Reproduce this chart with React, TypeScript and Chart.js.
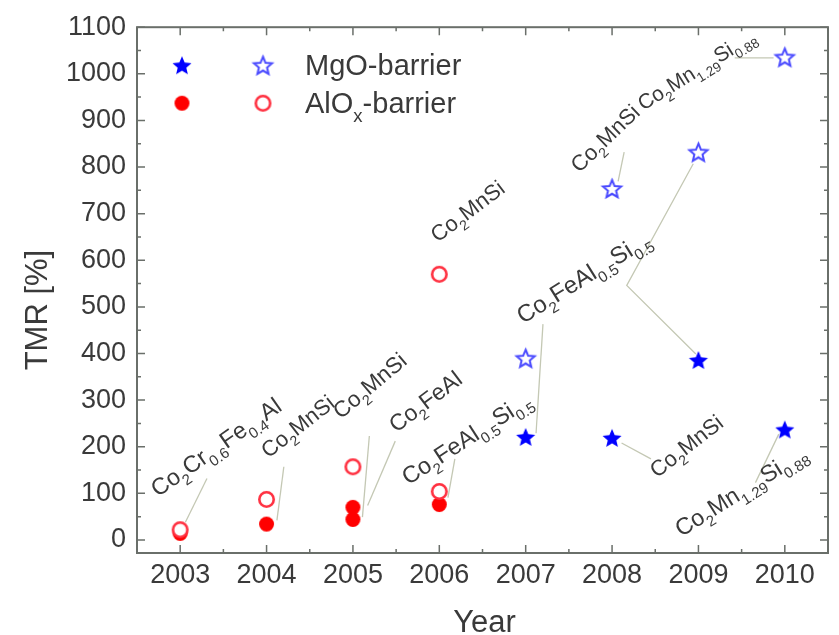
import React, { useEffect, useRef } from "react";
import { Chart, registerables } from "chart.js";

Chart.register(...registerables);

// ---- data ----
const mgoRtYears = [2007, 2008, 2009, 2010];
const mgoRtTmr = [221, 219, 386, 237];
const mgoLtYears = [2007, 2008, 2009, 2010];
const mgoLtTmr = [390, 754, 832, 1036];
const aloxRtYears = [2003, 2004, 2005, 2005, 2006];
const aloxRtTmr = [14, 34, 70, 44, 76];
const aloxLtYears = [2003, 2004, 2005, 2006, 2006];
const aloxLtTmr = [22, 87, 157, 104, 570];
const yearTicks = [2003, 2004, 2005, 2006, 2007, 2008, 2009, 2010];
const tmrTicks = [0, 100, 200, 300, 400, 500, 600, 700, 800, 900, 1000, 1100];
const legendLabels = ["MgO-barrier", "AlO_{x}-barrier"];

// material labels: text, anchor (year, TMR) at baseline start, angle
const labelTexts = [
  "Co_{2}Cr_{0.6}Fe_{0.4}Al",
  "Co_{2}MnSi",
  "Co_{2}MnSi",
  "Co_{2}FeAl",
  "Co_{2}FeAl_{0.5}Si_{0.5}",
  "Co_{2}MnSi",
  "Co_{2}FeAl_{0.5}Si_{0.5}",
  "Co_{2}MnSi",
  "Co_{2}Mn_{1.29}Si_{0.88}",
  "Co_{2}MnSi",
  "Co_{2}Mn_{1.29}Si_{0.88}",
];
const labelYears = [2002.74, 2004.02, 2004.86, 2005.5, 2005.64, 2005.98, 2006.97, 2007.62, 2008.36, 2008.52, 2008.8];
const labelTmrs = [91, 174, 258, 229, 117, 637, 463, 786, 920, 132, 6];
const labelAngles = [35, 38, 40, 37, 33, 37, 32, 44, 32, 38, 32];
const labelSizes = [23.5, 22, 22.5, 23, 23.5, 22, 24, 22, 21, 22, 23.5];

// leader lines in data coordinates
const leaderLines: number[][][] = [
  [[2003.06, 38], [2003.31, 132]],
  [[2004.12, 42], [2004.2, 157]],
  [[2005.11, 49], [2005.19, 223]],
  [[2005.17, 74], [2005.49, 212]],
  [[2006.1, 91], [2006.18, 174]],
  [[2007.12, 229], [2007.2, 463]],
  [[2008.94, 807], [2008.17, 546], [2008.97, 399]],
  [[2008.14, 832], [2008.07, 769]],
  [[2009.42, 1034], [2009.87, 1034]],
  [[2008.11, 208], [2008.45, 174]],
  [[2009.93, 227], [2009.66, 123]],
];

const FONT = '"Liberation Sans", Arial, Helvetica, sans-serif';
const TEXT = "#3a3a3a";
const FRAME = "#6a6f6a";

function makeStar(r: number, filled: boolean, color: string): HTMLCanvasElement {
  const size = Math.ceil(2 * r + 6);
  const c = document.createElement("canvas");
  c.width = size;
  c.height = size;
  const g = c.getContext("2d")!;
  const cx = size / 2;
  const cy = size / 2 + 1;
  g.beginPath();
  for (let i = 0; i < 10; i++) {
    const rr = i % 2 === 0 ? r : r * 0.45;
    const a = -Math.PI / 2 + (i * Math.PI) / 5;
    const px = cx + rr * Math.cos(a);
    const py = cy + rr * Math.sin(a);
    if (i === 0) g.moveTo(px, py);
    else g.lineTo(px, py);
  }
  g.closePath();
  if (filled) {
    g.fillStyle = color;
    g.fill();
  } else {
    g.fillStyle = "#ffffff";
    g.fill();
    g.lineWidth = 2;
    g.strokeStyle = color;
    g.stroke();
  }
  return c;
}

function makeCircle(r: number, filled: boolean, color: string): HTMLCanvasElement {
  const size = Math.ceil(2 * r + 6);
  const c = document.createElement("canvas");
  c.width = size;
  c.height = size;
  const g = c.getContext("2d")!;
  g.beginPath();
  g.arc(size / 2, size / 2, filled ? r : r - 1.3, 0, Math.PI * 2);
  if (filled) {
    g.fillStyle = color;
    g.fill();
  } else {
    g.fillStyle = "#ffffff";
    g.fill();
    g.lineWidth = 2.6;
    g.strokeStyle = color;
    g.stroke();
  }
  return c;
}

function parseRich(s: string) {
  const parts: { t: string; sub: boolean }[] = [];
  const re = /_\{([^}]*)\}|([^_]+)/g;
  let m: RegExpExecArray | null;
  while ((m = re.exec(s))) {
    if (m[1] !== undefined) parts.push({ t: m[1], sub: true });
    else parts.push({ t: m[2], sub: false });
  }
  return parts;
}

function drawRich(ctx: CanvasRenderingContext2D, s: string, x: number, y: number, angle: number, size: number) {
  ctx.save();
  ctx.translate(x, y);
  ctx.rotate((-angle * Math.PI) / 180);
  ctx.textBaseline = "alphabetic";
  ctx.textAlign = "left";
  let cx = 0;
  for (const p of parseRich(s)) {
    const fs = p.sub ? size * 0.64 : size;
    ctx.font = `${fs}px ${FONT}`;
    ctx.fillText(p.t, cx, p.sub ? size * 0.3 : 0);
    cx += ctx.measureText(p.t).width;
  }
  ctx.restore();
}

export default function App() {
  const ref = useRef<HTMLCanvasElement>(null);

  useEffect(() => {
    const canvas = ref.current;
    if (!canvas) return;
    const starFilled = makeStar(10, true, "#0000ff");
    const starOpen = makeStar(9.5, false, "#4a4aff");
    const circFilled = makeCircle(7.5, true, "#ff0000");
    const circOpen = makeCircle(8.5, false, "#ff3040");

    const toPts = (xs: number[], ys: number[]) => xs.map((x, i) => ({ x, y: ys[i] }));

    const decor = {
      id: "decor",
      beforeDatasetsDraw(chart: any) {
        const ctx: CanvasRenderingContext2D = chart.ctx;
        const xs = chart.scales.x;
        const ys = chart.scales.y;
        ctx.save();
        // leader lines
        ctx.strokeStyle = "#c4c8b4";
        ctx.lineWidth = 1.3;
        for (const line of leaderLines) {
          ctx.beginPath();
          line.forEach((p, i) => {
            const px = xs.getPixelForValue(p[0]);
            const py = ys.getPixelForValue(p[1]);
            if (i === 0) ctx.moveTo(px, py);
            else ctx.lineTo(px, py);
          });
          ctx.stroke();
        }
        // labels
        ctx.fillStyle = TEXT;
        labelTexts.forEach((t, i) => {
          drawRich(
            ctx,
            t,
            xs.getPixelForValue(labelYears[i]),
            ys.getPixelForValue(labelTmrs[i]),
            labelAngles[i],
            labelSizes[i]
          );
        });
        ctx.restore();
      },
      afterDraw(chart: any) {
        const ctx: CanvasRenderingContext2D = chart.ctx;
        const a = chart.chartArea;
        const xs = chart.scales.x;
        const ys = chart.scales.y;
        ctx.save();
        // frame
        ctx.strokeStyle = FRAME;
        ctx.lineWidth = 2;
        ctx.strokeRect(a.left, a.top, a.right - a.left, a.bottom - a.top);
        // ticks
        ctx.lineWidth = 1.5;
        ctx.beginPath();
        for (let v = 2002.5; v <= 2010.5001; v += 0.5) {
          const px = xs.getPixelForValue(v);
          const major = Math.abs(v - Math.round(v)) < 1e-6;
          const len = major ? 8 : 4;
          ctx.moveTo(px, a.bottom);
          ctx.lineTo(px, a.bottom - len);
          ctx.moveTo(px, a.top);
          ctx.lineTo(px, a.top + len);
        }
        for (let v = 0; v <= 1100; v += 50) {
          const py = ys.getPixelForValue(v);
          const len = v % 100 === 0 ? 8 : 4;
          ctx.moveTo(a.left, py);
          ctx.lineTo(a.left + len, py);
          ctx.moveTo(a.right, py);
          ctx.lineTo(a.right - len, py);
        }
        ctx.stroke();
        // axis titles
        ctx.fillStyle = TEXT;
        ctx.font = `31px ${FONT}`;
        ctx.textAlign = "center";
        ctx.textBaseline = "alphabetic";
        ctx.fillText("Year", (a.left + a.right) / 2 + 2, 632);
        ctx.save();
        ctx.translate(47, (a.top + a.bottom) / 2 + 20);
        ctx.rotate(-Math.PI / 2);
        ctx.fillText("TMR [%]", 0, 0);
        ctx.restore();
        // legend
        const lx1 = a.left + 45;
        const lx2 = a.left + 126;
        const tx = a.left + 168;
        const rows = [a.top + 38, a.top + 76];
        const icons = [
          [starFilled, starOpen],
          [circFilled, circOpen],
        ];
        rows.forEach((ry, i) => {
          const [f, o] = icons[i];
          ctx.drawImage(f, lx1 - f.width / 2, ry - f.height / 2);
          ctx.drawImage(o, lx2 - o.width / 2, ry - o.height / 2);
          drawRich(ctx, legendLabels[i], tx, ry + 10, 0, 29);
        });
        ctx.restore();
      },
    };

    const chart = new Chart(canvas, {
      type: "scatter",
      data: {
        datasets: [
          { label: "AlOx open", data: toPts(aloxLtYears, aloxLtTmr), pointStyle: circOpen as any, pointRadius: 9 },
          { label: "AlOx filled", data: toPts(aloxRtYears, aloxRtTmr), pointStyle: circFilled as any, pointRadius: 8 },
          { label: "MgO open", data: toPts(mgoLtYears, mgoLtTmr), pointStyle: starOpen as any, pointRadius: 10 },
          { label: "MgO filled", data: toPts(mgoRtYears, mgoRtTmr), pointStyle: starFilled as any, pointRadius: 10 },
        ],
      },
      options: {
        responsive: false,
        animation: false,
        layout: { padding: { top: 22, right: 4, left: 0, bottom: 0 } },
        plugins: { legend: { display: false }, tooltip: { enabled: false } },
        scales: {
          x: {
            type: "linear",
            min: 2002.5,
            max: 2010.5,
            afterBuildTicks: (s: any) => {
              s.ticks = yearTicks.map((v) => ({ value: v }));
            },
            afterFit: (s: any) => {
              s.height = 82;
            },
            grid: { display: false, drawTicks: false },
            border: { display: false },
            ticks: {
              font: { size: 27, family: FONT },
              color: TEXT,
              padding: 6,
              maxRotation: 0,
              autoSkip: false,
              callback: (v: any) => String(v),
            },
          },
          y: {
            min: -28,
            max: 1100,
            afterBuildTicks: (s: any) => {
              s.ticks = tmrTicks.map((v) => ({ value: v }));
            },
            afterFit: (s: any) => {
              s.width = 137;
            },
            grid: { display: false, drawTicks: false },
            border: { display: false },
            ticks: {
              font: { size: 27, family: FONT },
              color: TEXT,
              padding: 11,
              autoSkip: false,
              callback: (v: any) => String(v),
            },
          },
        },
      },
      plugins: [decor],
    });
    return () => chart.destroy();
  }, []);

  return (
    <div style={{ position: "absolute", left: 0, top: 0, width: 839, height: 635, background: "#fff" }}>
      <canvas ref={ref} width={839} height={635} style={{ display: "block" }} />
    </div>
  );
}
